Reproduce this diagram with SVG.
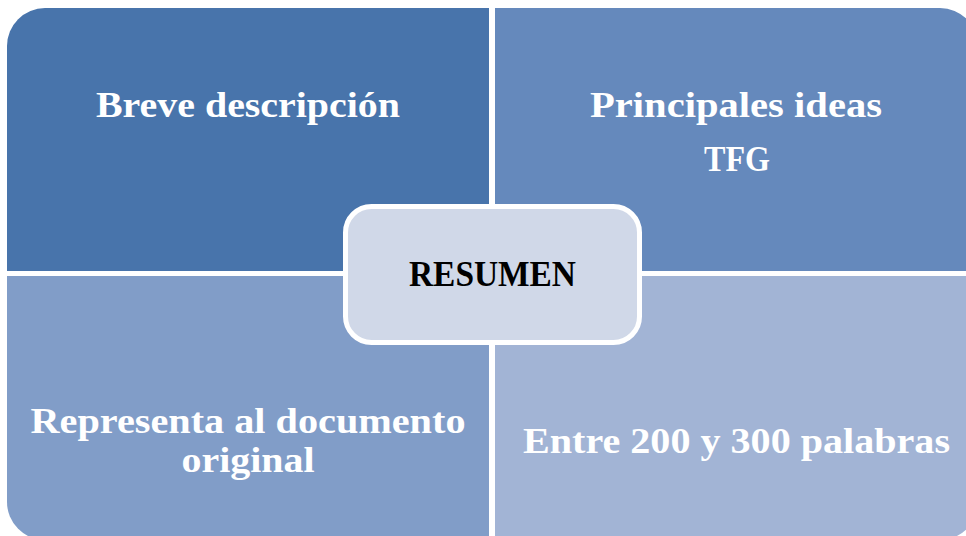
<svg xmlns="http://www.w3.org/2000/svg" width="966" height="536" viewBox="0 0 966 536">
  <style>
    .lbl { font-family: "Liberation Serif", "DejaVu Serif", serif; font-weight: bold; font-size: 36px; fill: #ffffff; text-anchor: middle; }
    .ctr { font-family: "Liberation Serif", "DejaVu Serif", serif; font-weight: bold; font-size: 36px; fill: #000000; text-anchor: middle; }
  </style>
  <rect width="966" height="536" fill="#ffffff"/>
  <g id="node-breve">
    <path d="M7,46 A38,38 0 0 1 45,8 L489,8 L489,271 L7,271 Z" fill="#4874AB"/>
    <text class="lbl" x="248" y="117" textLength="304" lengthAdjust="spacingAndGlyphs">Breve descripción</text>
  </g>
  <g id="node-principales">
    <path d="M495,8 L940,8 A38,38 0 0 1 978,46 L978,271 L495,271 Z" fill="#6589BC"/>
    <text class="lbl" x="736" y="117" textLength="292" lengthAdjust="spacingAndGlyphs">Principales ideas</text>
    <text class="lbl" x="737" y="171" textLength="66" lengthAdjust="spacingAndGlyphs">TFG</text>
  </g>
  <g id="node-representa">
    <path d="M7,276 L489,276 L489,540 L45,540 A38,38 0 0 1 7,502 Z" fill="#819DC8"/>
    <text class="lbl" x="248" y="433" textLength="435" lengthAdjust="spacingAndGlyphs">Representa al documento</text>
    <text class="lbl" x="248" y="472" textLength="133" lengthAdjust="spacingAndGlyphs">original</text>
  </g>
  <g id="node-entre">
    <path d="M495,276 L978,276 L978,502 A38,38 0 0 1 940,540 L495,540 Z" fill="#A2B4D5"/>
    <text class="lbl" x="736.5" y="453" textLength="427" lengthAdjust="spacingAndGlyphs">Entre 200 y 300 palabras</text>
  </g>
  <g id="node-resumen">
    <rect x="345.5" y="206.5" width="294" height="136" rx="26" ry="26" fill="#D0D8E8" stroke="#ffffff" stroke-width="5"/>
    <text class="ctr" x="492.5" y="286" textLength="167" lengthAdjust="spacingAndGlyphs">RESUMEN</text>
  </g>
  <g id="connectors"></g>
</svg>
